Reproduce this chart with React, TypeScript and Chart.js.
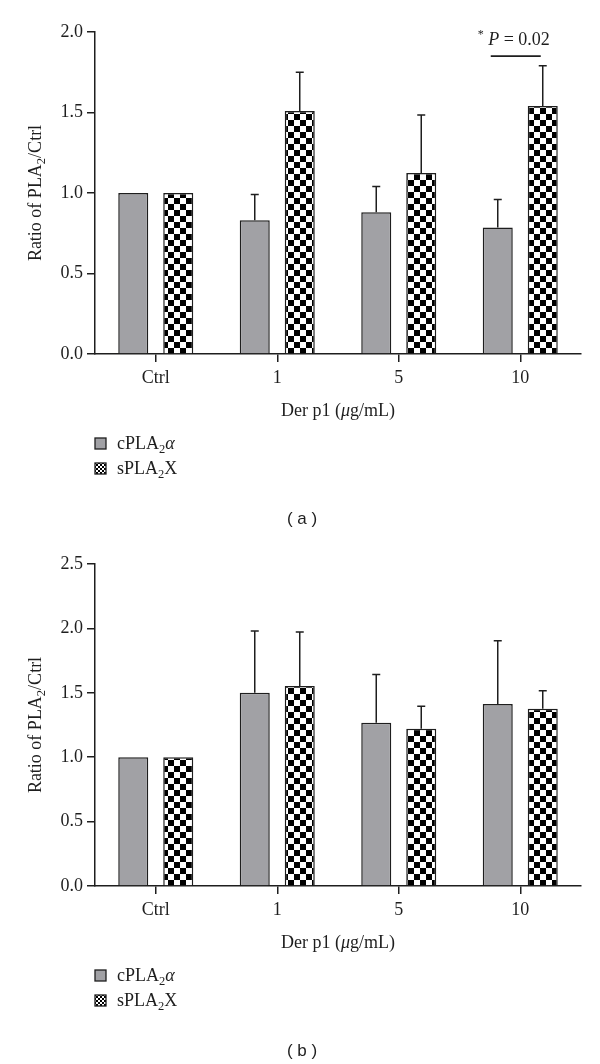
import React, { useEffect, useRef } from "react";
import { Chart, registerables } from "chart.js";

Chart.register(...registerables);

const categories = ["Ctrl", "1", "5", "10"];
const seriesNames = ["cPLA2α", "sPLA2X"];
const yStep = 0.5;

// Panel (a)
const yMaxA = 2.0;
const cplaA = [1.0, 0.83, 0.88, 0.785];
const cplaErrA = [null, 0.16, 0.16, 0.175];
const splaA = [1.0, 1.51, 1.125, 1.54];
const splaErrA = [null, 0.24, 0.36, 0.25];
const pLabelA = "P = 0.02";
const pLineValueA = 1.85;
const pIndexA = 3;

// Panel (b)
const yMaxB = 2.5;
const cplaB = [1.0, 1.5, 1.267, 1.414];
const cplaErrB = [null, 0.48, 0.375, 0.49];
const splaB = [1.0, 1.553, 1.22, 1.376];
const splaErrB = [null, 0.42, 0.175, 0.14];

const SERIF = '"Liberation Serif", "Times New Roman", serif';
const SANS = '"Liberation Sans", Arial, sans-serif';
const INK = "#1e1e1e";
const GREY = "#a1a1a5";
const W = 600;
const H = 532;

type Run = { t: string; font: string; dy?: number };

function drawRuns(ctx: CanvasRenderingContext2D, runs: Run[], x: number, y: number, align: "left" | "center") {
  const widths = runs.map((r) => {
    ctx.font = r.font;
    return ctx.measureText(r.t).width;
  });
  const total = widths.reduce((a, b) => a + b, 0);
  let cx = align === "center" ? x - total / 2 : x;
  ctx.textAlign = "left";
  ctx.textBaseline = "alphabetic";
  runs.forEach((r, i) => {
    ctx.font = r.font;
    ctx.fillText(r.t, cx, y + (r.dy || 0));
    cx += widths[i];
  });
}

function makeChecker(cell: number): CanvasPattern | string {
  const c = document.createElement("canvas");
  c.width = cell * 2;
  c.height = cell * 2;
  const g = c.getContext("2d");
  if (!g) return "#fff";
  g.fillStyle = "#fff";
  g.fillRect(0, 0, cell * 2, cell * 2);
  g.fillStyle = "#000";
  g.fillRect(0, 0, cell, cell);
  g.fillRect(cell, cell, cell, cell);
  return g.createPattern(c, "repeat") || "#fff";
}

const F = (size: number, italic = false) => `${italic ? "italic " : ""}${size}px ${SERIF}`;

type PanelProps = {
  cpla: number[];
  cplaErr: (number | null)[];
  spla: number[];
  splaErr: (number | null)[];
  yMax: number;
  caption: string;
  pLabel?: string;
  pLineValue?: number;
  pIndex?: number;
};

function Panel(props: PanelProps) {
  const ref = useRef<HTMLCanvasElement | null>(null);
  useEffect(() => {
    const canvas = ref.current;
    if (!canvas) return;
    const checker = makeChecker(6);
    const smallChecker = makeChecker(2);
    const errs = [props.cplaErr, props.splaErr];

    const extras = {
      id: "extras",
      afterDatasetsDraw(chart: any) {
        const ctx: CanvasRenderingContext2D = chart.ctx;
        const ys = chart.scales.y;
        ctx.save();
        ctx.strokeStyle = INK;
        ctx.lineWidth = 1.5;
        [0, 1].forEach((di) => {
          const meta = chart.getDatasetMeta(di);
          const vals = chart.data.datasets[di].data as number[];
          meta.data.forEach((bar: any, j: number) => {
            const e = errs[di][j];
            if (e == null) return;
            const top = ys.getPixelForValue(vals[j] + e);
            ctx.beginPath();
            ctx.moveTo(bar.x, bar.y);
            ctx.lineTo(bar.x, top);
            ctx.moveTo(bar.x - 4, top);
            ctx.lineTo(bar.x + 4, top);
            ctx.stroke();
          });
        });
        ctx.restore();
      },
      afterDraw(chart: any) {
        const ctx: CanvasRenderingContext2D = chart.ctx;
        const a = chart.chartArea;
        ctx.save();
        ctx.fillStyle = INK;
        // y title
        ctx.save();
        ctx.translate(35, (a.top + a.bottom) / 2);
        ctx.rotate(-Math.PI / 2);
        drawRuns(
          ctx,
          [
            { t: "Ratio of PLA", font: F(18) },
            { t: "2", font: F(12.5), dy: 4 },
            { t: "/Ctrl", font: F(18) },
          ],
          0,
          6,
          "center"
        );
        ctx.restore();
        // x title
        drawRuns(
          ctx,
          [
            { t: "Der p1 (", font: F(18) },
            { t: "μ", font: F(18, true) },
            { t: "g/mL)", font: F(18) },
          ],
          (a.left + a.right) / 2,
          a.bottom + 62,
          "center"
        );
        // legend
        const lx = a.left;
        const ly = a.bottom + 84;
        const fills = [GREY, smallChecker];
        const labels: Run[][] = [
          [
            { t: "cPLA", font: F(18) },
            { t: "2", font: F(12.5), dy: 4 },
            { t: "α", font: F(18, true) },
          ],
          [
            { t: "sPLA", font: F(18) },
            { t: "2", font: F(12.5), dy: 4 },
            { t: "X", font: F(18) },
          ],
        ];
        labels.forEach((runs, i) => {
          const by = ly + i * 25;
          ctx.fillStyle = fills[i] as any;
          ctx.fillRect(lx, by, 11, 11);
          ctx.strokeStyle = INK;
          ctx.lineWidth = 1.3;
          ctx.strokeRect(lx, by, 11, 11);
          ctx.fillStyle = INK;
          drawRuns(ctx, runs, lx + 22, by + 11, "left");
        });
        // caption
        ctx.font = `17px ${SANS}`;
        ctx.textAlign = "center";
        ctx.textBaseline = "alphabetic";
        ctx.fillText(props.caption, 302, 524);
        // p annotation
        if (props.pLabel && props.pIndex != null && props.pLineValue != null) {
          const g = chart.getDatasetMeta(0).data[props.pIndex];
          const s = chart.getDatasetMeta(1).data[props.pIndex];
          const y = chart.scales.y.getPixelForValue(props.pLineValue);
          const x0 = g.x - 7;
          const x1 = s.x - 2;
          ctx.strokeStyle = INK;
          ctx.lineWidth = 1.8;
          ctx.beginPath();
          ctx.moveTo(x0, y);
          ctx.lineTo(x1, y);
          ctx.stroke();
          const [pl, rest] = [props.pLabel.slice(0, 1), props.pLabel.slice(1)];
          drawRuns(
            ctx,
            [
              { t: "*", font: F(12), dy: -7 },
              { t: " " + pl, font: F(18, true) },
              { t: rest, font: F(18) },
            ],
            (x0 + x1) / 2 - 2,
            y - 11,
            "center"
          );
        }
        ctx.restore();
      },
    };

    const chart = new Chart(canvas, {
      type: "bar",
      data: {
        labels: categories,
        datasets: [
          {
            label: seriesNames[0],
            data: props.cpla,
            backgroundColor: GREY,
            borderColor: INK,
            borderWidth: 1.5,
            categoryPercentage: 0.7407,
            barPercentage: 0.667,
          },
          {
            label: seriesNames[1],
            data: props.spla,
            backgroundColor: checker as any,
            borderColor: INK,
            borderWidth: 1.5,
            categoryPercentage: 0.7407,
            barPercentage: 0.667,
          },
        ],
      },
      options: {
        responsive: false,
        maintainAspectRatio: false,
        animation: false,
        devicePixelRatio: 1,
        layout: { padding: { left: 0, right: 19, top: 32, bottom: 0 } },
        plugins: { legend: { display: false }, tooltip: { enabled: false } },
        scales: {
          x: {
            grid: { offset: false, drawOnChartArea: false, drawTicks: true, tickLength: 8, color: INK, lineWidth: 1.5 },
            border: { display: true, color: INK, width: 1.5 },
            ticks: { color: INK, font: { family: SERIF, size: 18 }, padding: 5, maxRotation: 0 },
            afterFit: (s: any) => {
              s.height = 178;
            },
          },
          y: {
            min: 0,
            max: props.yMax,
            grid: { drawOnChartArea: false, drawTicks: true, tickLength: 8, color: INK, lineWidth: 1.5 },
            border: { display: true, color: INK, width: 1.5 },
            ticks: {
              stepSize: yStep,
              color: INK,
              font: { family: SERIF, size: 18 },
              padding: 4,
              callback: (v: any) => Number(v).toFixed(1),
            },
            afterFit: (s: any) => {
              s.width = 95;
            },
          },
        },
      } as any,
      plugins: [extras],
    });
    return () => chart.destroy();
  }, []);
  return <canvas ref={ref} width={W} height={H} style={{ display: "block", width: W, height: H }} />;
}

export default function App() {
  return (
    <div style={{ position: "absolute", left: 0, top: 0, width: W, height: 1064, background: "#fff" }}>
      <Panel
        cpla={cplaA}
        cplaErr={cplaErrA}
        spla={splaA}
        splaErr={splaErrA}
        yMax={yMaxA}
        caption="( a )"
        pLabel={pLabelA}
        pLineValue={pLineValueA}
        pIndex={pIndexA}
      />
      <Panel cpla={cplaB} cplaErr={cplaErrB} spla={splaB} splaErr={splaErrB} yMax={yMaxB} caption="( b )" />
    </div>
  );
}
